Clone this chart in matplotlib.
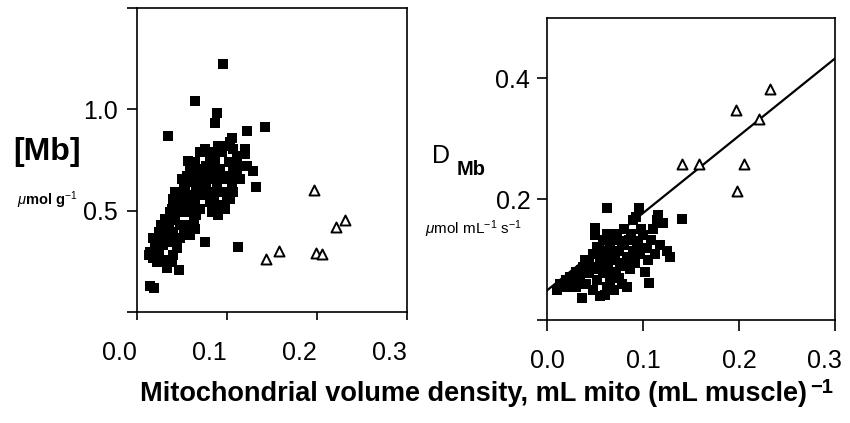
import matplotlib
matplotlib.use("Agg")
import matplotlib.pyplot as plt
from matplotlib.transforms import ScaledTranslation
from matplotlib import font_manager

# ---------------- data ----------------
# Left panel: [Mb] vs mitochondrial volume density
left_sq_x = [0.013, 0.018, 0.024, 0.029, 0.020, 0.026, 0.033, 0.037, 0.040, 0.039,
             0.031, 0.044, 0.048, 0.040, 0.027, 0.031, 0.035, 0.042, 0.048, 0.052,
             0.055, 0.059, 0.064, 0.063, 0.053, 0.046, 0.039, 0.040, 0.042, 0.050,
             0.055, 0.059, 0.066, 0.070, 0.064, 0.061, 0.053, 0.050, 0.055, 0.061,
             0.066, 0.072, 0.074, 0.070, 0.064, 0.059, 0.057, 0.064, 0.070, 0.076,
             0.077, 0.081, 0.085, 0.087, 0.090, 0.092, 0.098, 0.100, 0.096, 0.089,
             0.085, 0.081, 0.077, 0.074, 0.076, 0.081, 0.087, 0.092, 0.098, 0.103,
             0.105, 0.107, 0.103, 0.094, 0.098, 0.103, 0.107, 0.111, 0.113, 0.111,
             0.114, 0.090, 0.087, 0.070, 0.052, 0.044, 0.037, 0.024, 0.018, 0.014,
             0.022, 0.033, 0.048, 0.081, 0.083, 0.094, 0.102, 0.120, 0.122, 0.107,
             0.029,
             0.096, 0.064, 0.089, 0.087, 0.034, 0.122, 0.142, 0.105, 0.120, 0.129,
             0.132, 0.112, 0.076, 0.047, 0.014, 0.019]
left_sq_y = [0.281, 0.265, 0.297, 0.330, 0.322, 0.363, 0.379, 0.346, 0.281, 0.248,
             0.257, 0.314, 0.363, 0.395, 0.428, 0.461, 0.428, 0.453, 0.428, 0.395,
             0.428, 0.379, 0.412, 0.461, 0.493, 0.493, 0.510, 0.559, 0.592, 0.575,
             0.542, 0.510, 0.477, 0.510, 0.542, 0.575, 0.624, 0.657, 0.673, 0.641,
             0.608, 0.575, 0.624, 0.657, 0.690, 0.722, 0.747, 0.739, 0.706, 0.673,
             0.624, 0.592, 0.559, 0.510, 0.477, 0.526, 0.510, 0.559, 0.592, 0.608,
             0.657, 0.690, 0.722, 0.788, 0.804, 0.771, 0.739, 0.706, 0.673, 0.657,
             0.624, 0.592, 0.559, 0.788, 0.820, 0.837, 0.804, 0.771, 0.722, 0.673,
             0.657, 0.820, 0.788, 0.788, 0.641, 0.542, 0.493, 0.395, 0.363, 0.297,
             0.248, 0.216, 0.575, 0.542, 0.493, 0.657, 0.739, 0.804, 0.722, 0.690,
             0.412,
             1.225, 1.041, 0.980, 0.935, 0.869, 0.894, 0.915, 0.858, 0.779, 0.698,
             0.616, 0.319, 0.346, 0.207, 0.126, 0.118]

tri_x = [0.143, 0.158, 0.197, 0.199, 0.205, 0.221, 0.231]
left_tri_y = [0.261, 0.302, 0.600, 0.293, 0.284, 0.420, 0.452]

# Right panel: D_Mb vs mitochondrial volume density
right_sq_x = [0.010, 0.014, 0.020, 0.024, 0.027, 0.030, 0.034, 0.036, 0.038, 0.041,
              0.044, 0.044, 0.048, 0.048, 0.050, 0.052, 0.052, 0.055, 0.055, 0.058,
              0.058, 0.060, 0.062, 0.062, 0.064, 0.066, 0.066, 0.069, 0.069, 0.070,
              0.072, 0.073, 0.075, 0.076, 0.078, 0.080, 0.080, 0.083, 0.083, 0.085,
              0.086, 0.088, 0.090, 0.090, 0.092, 0.095, 0.097, 0.100, 0.102, 0.104,
              0.106, 0.108, 0.110, 0.112, 0.115, 0.118, 0.121, 0.125, 0.128, 0.116,
              0.141, 0.063, 0.096, 0.050, 0.093, 0.040, 0.030, 0.057, 0.068, 0.078,
              0.088, 0.098, 0.045, 0.035, 0.060, 0.071, 0.082, 0.094, 0.105, 0.020,
              0.060, 0.075, 0.050, 0.065]
right_sq_y = [0.050, 0.060, 0.066, 0.072, 0.060, 0.080, 0.070, 0.036, 0.088, 0.060,
              0.077, 0.099, 0.050, 0.110, 0.085, 0.121, 0.066, 0.099, 0.040, 0.132,
              0.077, 0.110, 0.055, 0.143, 0.090, 0.121, 0.066, 0.100, 0.132, 0.050,
              0.080, 0.143, 0.115, 0.094, 0.060, 0.125, 0.150, 0.055, 0.105, 0.132,
              0.085, 0.143, 0.115, 0.165, 0.095, 0.130, 0.110, 0.140, 0.080, 0.120,
              0.061, 0.132, 0.150, 0.110, 0.165, 0.125, 0.160, 0.115, 0.105, 0.174,
              0.167, 0.185, 0.185, 0.152, 0.170, 0.100, 0.055, 0.115, 0.140, 0.130,
              0.100, 0.150, 0.088, 0.082, 0.095, 0.110, 0.090, 0.125, 0.100, 0.055,
              0.041, 0.070, 0.140, 0.078]
right_tri_y = [0.258, 0.258, 0.348, 0.214, 0.258, 0.332, 0.382]
right_tri_x = [0.141, 0.158, 0.197, 0.198, 0.205, 0.221, 0.232]

fit_intercept = 0.049
fit_slope = 1.28
fit_x = [0.0, 0.3]

x_ticks = [0.0, 0.1, 0.2, 0.3]
x_ticklabels = ["0.0", "0.1", "0.2", "0.3"]
left_y_ticks = [0.0, 0.5, 1.0, 1.5]
left_y_ticklabels = ["", "0.5", "1.0", ""]
right_y_ticks = [0.0, 0.2, 0.4]
right_y_ticklabels = ["", "0.2", "0.4"]

# ---------------- styling ----------------
names = {f.name for f in font_manager.fontManager.ttflist}
base_font = "Liberation Sans" if "Liberation Sans" in names else "DejaVu Sans"
plt.rcParams["font.family"] = [base_font, "DejaVu Sans"]
plt.rcParams["mathtext.fontset"] = "custom"
plt.rcParams["mathtext.rm"] = base_font
plt.rcParams["mathtext.it"] = base_font + ":italic"
plt.rcParams["mathtext.bf"] = base_font + ":bold"

W, H = 850, 423
fig = plt.figure(figsize=(W / 100, H / 100), dpi=100)

def px_axes(x0, y0, x1, y1):
    return fig.add_axes([x0 / W, 1 - y1 / H, (x1 - x0) / W, (y1 - y0) / H])

def shift(lab, dx_px, dy_px=0):
    lab.set_transform(lab.get_transform() +
                      ScaledTranslation(dx_px / 100, dy_px / 100, fig.dpi_scale_trans))

axL = px_axes(137, 8, 407, 312)
axR = px_axes(547, 18, 835, 320)

for ax in (axL, axR):
    for s in ax.spines.values():
        s.set_linewidth(1.2)
    ax.tick_params(direction="out", width=1.2, labelsize=18)
    ax.set_xlim(0, 0.3)
    ax.set_xticks(x_ticks)
    ax.set_xticklabels(x_ticklabels)

# Left panel
axL.scatter(left_sq_x, left_sq_y, marker="s", s=62, color="black", linewidths=0, zorder=3)
axL.scatter(tri_x, left_tri_y, marker="^", s=52, facecolors="white", edgecolors="black",
            linewidths=1.4, zorder=4)
axL.set_ylim(0.0, 1.49)
axL.set_yticks(left_y_ticks)
axL.set_yticklabels(left_y_ticklabels)
axL.tick_params(axis="x", length=6, pad=15)
axL.tick_params(axis="y", length=7, pad=7)
for lab in axL.get_xticklabels():
    shift(lab, -18)

# Right panel
axR.scatter(right_sq_x, right_sq_y, marker="s", s=62, color="black", linewidths=0, zorder=3)
axR.scatter(right_tri_x, right_tri_y, marker="^", s=52, facecolors="white", edgecolors="black",
            linewidths=1.4, zorder=4)
fit_y = [fit_intercept + fit_slope * v for v in fit_x]
axR.plot(fit_x, fit_y, color="black", lw=1.6, zorder=2)
axR.set_ylim(0.0, 0.5)
axR.set_yticks(right_y_ticks)
axR.set_yticklabels(right_y_ticklabels)
axR.tick_params(axis="x", length=8, pad=13)
axR.tick_params(axis="y", length=7, pad=5)
shift(axR.get_xticklabels()[-1], -11)

# Axis titles
fig.text(13 / W, 1 - 152 / H, "[Mb]", fontsize=23, fontweight="bold", ha="left", va="center")
fig.text(17 / W, 1 - 205 / H, r"$\mu$mol g$^{-1}$", fontsize=10.5, fontweight="bold",
         ha="left", va="baseline")

fig.text(432 / W, 1 - 163 / H, "D", fontsize=18, ha="left", va="baseline")
fig.text(457 / W, 1 - 175 / H, "Mb", fontsize=14.5, fontweight="bold", ha="left", va="baseline")
fig.text(425 / W, 1 - 234 / H, r"$\mu$mol mL$^{-1}$ s$^{-1}$", fontsize=11,
         ha="left", va="baseline")

xl = fig.text(140 / W, 1 - 401 / H, "Mitochondrial volume density, mL mito (mL muscle)",
              fontsize=19.5, fontweight="bold", ha="left", va="baseline")
fig.canvas.draw()
bb = xl.get_window_extent(renderer=fig.canvas.get_renderer())
fig.text((bb.x1 + 3) / W, 1 - 393 / H, "\u22121", fontsize=14.5,
         fontweight="bold", ha="left", va="baseline")

fig.savefig("out.png", dpi=100)
